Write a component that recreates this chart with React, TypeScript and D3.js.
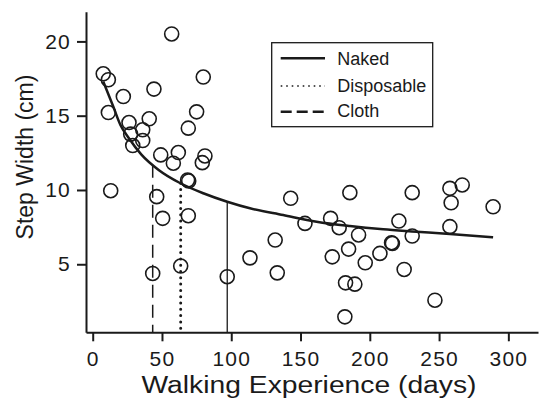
import React, { useEffect, useRef } from 'react';
import * as d3 from 'd3';

// scatter: walking experience (days) vs step width (cm)
const pointDays = [
  7.6, 11.3, 57.0, 79.8, 22.1, 44.2, 11.3, 75.0, 40.8, 26.2, 69.0, 36.1, 27.4, 36.1, 28.9,
  49.1, 61.8, 58.2, 81.0, 79.1, 68.5, 69.3, 13.0, 46.2, 50.5, 69.0, 113.5, 43.3, 63.5, 97.1,
  142.9, 131.7, 133.2, 153.2, 171.7, 177.9, 185.6, 191.9, 184.7, 172.9, 196.7, 207.3, 215.7,
  216.3, 221.0, 230.6, 230.6, 224.8, 182.5, 189.2, 182.0, 247.0, 257.8, 266.7, 258.7, 257.8, 289.0,
];
const pointWidths = [
  17.82, 17.42, 20.5, 17.6, 16.29, 16.79, 15.21, 15.26, 14.79, 14.54, 14.16, 14.05, 13.76, 13.33, 12.99,
  12.36, 12.52, 11.8, 12.29, 11.84, 10.67, 10.61, 9.95, 9.55, 8.09, 8.27, 5.43, 4.38, 4.88, 4.16,
  9.44, 6.63, 4.42, 7.75, 8.09, 7.46, 9.82, 6.97, 6.02, 5.5, 5.1, 5.73, 6.45,
  6.4, 7.91, 9.82, 6.9, 4.65, 3.75, 3.66, 1.46, 2.58, 10.11, 10.34, 9.14, 7.53, 8.87,
];

// fitted curve (naked)
const curveDays = [7.6, 14.9, 19.9, 26, 35, 47.6, 63, 79.8, 97.1, 113.5, 137.5, 161.6, 185.6, 209.7, 233.8, 257.8, 289];
const curveWidths = [17.3, 15.6, 14.4, 13.5, 12.4, 11.35, 10.47, 9.78, 9.21, 8.77, 8.31, 7.86, 7.57, 7.35, 7.19, 7.03, 6.81];

// drop lines per group
const groupNames = ['Naked', 'Disposable', 'Cloth'];
const groupDays = [97.1, 63.5, 43.3];
const groupWidths = [9.21, 10.45, 11.7];

const xTicks = [0, 50, 100, 150, 200, 250, 300];
const yTicks = [5, 10, 15, 20];

const ink = '#1a1a1a';
const font = '"Liberation Sans", Arial, Helvetica, sans-serif';

const App = () => {
  const svgRef = useRef(null);

  useEffect(() => {
    const svg = d3.select(svgRef.current);
    svg.selectAll('*').remove();

    const x = d3.scaleLinear().domain([-4.84, 321.4]).range([86, 538]);
    const y = d3.scaleLinear().domain([0.42, 22.0]).range([332.3, 11.7]);

    // axes
    const xAxis = svg.append('g')
      .attr('transform', `translate(0,${y.range()[0]})`)
      .call(d3.axisBottom(x).tickValues(xTicks).tickSize(9).tickSizeOuter(0).tickPadding(9.4));
    const yAxis = svg.append('g')
      .attr('transform', `translate(${x.range()[0]},0)`)
      .call(d3.axisLeft(y).tickValues(yTicks).tickSize(9).tickSizeOuter(0).tickPadding(6));

    [xAxis, yAxis].forEach(a => {
      a.select('.domain').attr('stroke', ink).attr('stroke-width', 2);
      a.selectAll('.tick line').attr('stroke', ink).attr('stroke-width', 2);
      a.selectAll('.tick text')
        .attr('fill', ink)
        .attr('font-family', font)
        .attr('font-size', 21)
        .attr('letter-spacing', 1.2);
    });

    // axis titles
    svg.append('text')
      .attr('x', 309).attr('y', 393.3)
      .attr('text-anchor', 'middle')
      .attr('font-family', font).attr('font-size', 23)
      .attr('fill', ink)
      .attr('textLength', 335).attr('lengthAdjust', 'spacingAndGlyphs')
      .text('Walking Experience (days)');
    svg.append('text')
      .attr('transform', 'translate(33,157) rotate(-90)')
      .attr('text-anchor', 'middle')
      .attr('font-family', font).attr('font-size', 23)
      .attr('fill', ink)
      .text('Step Width (cm)');

    // drop lines
    const dropStyles = [
      { w: 1.3, dash: null, cap: 'butt' },
      { w: 3, dash: '0 6.3', cap: 'round' },
      { w: 1.5, dash: '13 7', cap: 'butt' },
    ];
    groupDays.forEach((d, i) => {
      svg.append('line')
        .attr('x1', x(d)).attr('x2', x(d))
        .attr('y1', y(groupWidths[i])).attr('y2', y.range()[0])
        .attr('stroke', ink)
        .attr('stroke-width', dropStyles[i].w)
        .attr('stroke-dasharray', dropStyles[i].dash)
        .attr('stroke-linecap', dropStyles[i].cap);
    });

    // points
    svg.append('g')
      .selectAll('circle')
      .data(pointDays.map((d, i) => [d, pointWidths[i]]))
      .join('circle')
      .attr('cx', d => x(d[0]))
      .attr('cy', d => y(d[1]))
      .attr('r', 7)
      .attr('fill', 'none')
      .attr('stroke', ink)
      .attr('stroke-width', 1.6);

    // fitted curve
    const line = d3.line<number>()
      .x(d => x(curveDays[d]))
      .y(d => y(curveWidths[d]))
      .curve(d3.curveMonotoneX);
    svg.append('path')
      .datum(d3.range(curveDays.length))
      .attr('d', line)
      .attr('fill', 'none')
      .attr('stroke', ink)
      .attr('stroke-width', 2.5);

    // legend
    const lg = svg.append('g');
    lg.append('rect')
      .attr('x', 271.7).attr('y', 42.7)
      .attr('width', 161).attr('height', 84)
      .attr('fill', 'white')
      .attr('stroke', ink).attr('stroke-width', 1.3);
    const legendStyles = [
      { w: 2.5, dash: null },
      { w: 1.6, dash: '1.6 3.9' },
      { w: 2.5, dash: '11 5' },
    ];
    const legendLineY = [58.3, 86, 111.7];
    const legendTextY = [65, 91.5, 117.3];
    groupNames.forEach((name, i) => {
      lg.append('line')
        .attr('x1', 280.7).attr('x2', 325)
        .attr('y1', legendLineY[i]).attr('y2', legendLineY[i])
        .attr('stroke', ink)
        .attr('stroke-width', legendStyles[i].w)
        .attr('stroke-dasharray', legendStyles[i].dash);
      lg.append('text')
        .attr('x', 337.3).attr('y', legendTextY[i])
        .attr('font-family', font).attr('font-size', 18)
        .attr('fill', ink)
        .text(name);
    });
  }, []);

  return (
    <svg
      ref={svgRef}
      width={540}
      height={401}
      style={{ position: 'absolute', left: 0, top: 0, background: 'white' }}
    />
  );
};

export default App;
